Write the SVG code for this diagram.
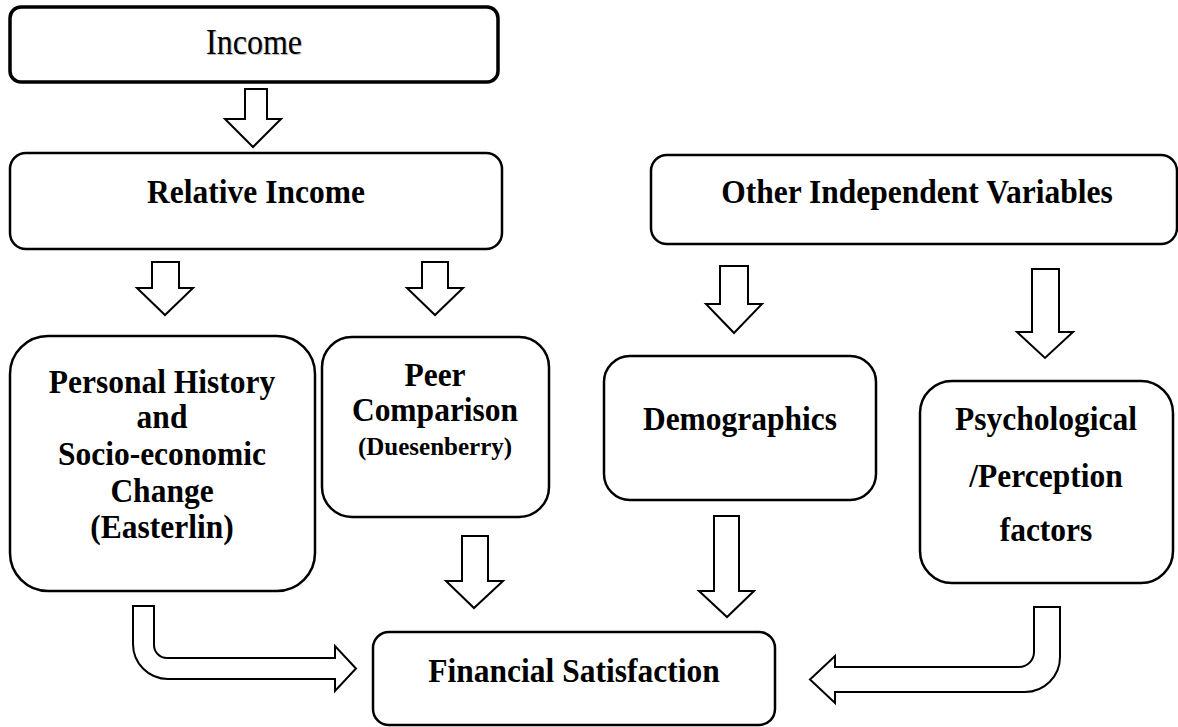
<svg xmlns="http://www.w3.org/2000/svg" width="1178" height="727" viewBox="0 0 1178 727">
<style>
.box{fill:#fff;stroke:#000;stroke-width:2.5}
.arr{fill:#fff;stroke:#000;stroke-width:2;stroke-linejoin:miter}
.t{font-family:"Liberation Serif","Times New Roman",serif;font-weight:bold;font-size:31.5px;text-anchor:middle;fill:#000}
.s{font-size:25px}
.n{font-weight:normal;font-size:32px}
</style>
<rect width="1178" height="727" fill="#fff"/>
<g id="connectors">
<polygon class="arr" points="245,89 267,89 267,119 281,119 253,147 225,119 245,119"/>
<polygon class="arr" points="152,262 179,262 179,288 193,288 165,315 137,288 152,288"/>
<polygon class="arr" points="422,262 448,262 448,288 463,288 435,315 407,288 422,288"/>
<polygon class="arr" points="720,266 748,266 748,304 762,304 734,333 706,304 720,304"/>
<polygon class="arr" points="1032,269 1059,269 1059,332 1073,332 1045,358 1017,332 1032,332"/>
<polygon class="arr" points="462,536 488,536 488,581 503,581 474,608 446,581 462,581"/>
<polygon class="arr" points="714,516 739,516 739,591 754,591 727,617 699,591 714,591"/>
<path class="arr" d="M133,606 L154,606 L154,645 A13,13 0 0 0 167,658 L335,658 L335,646 L356,668.5 L335,691 L335,679 L168,679 A35,35 0 0 1 133,644 Z"/>
<path class="arr" d="M1034,607 L1060,607 L1060,657 A35,35 0 0 1 1025,692 L835,692 L835,703 L810,679.5 L835,656 L835,667 L1019,667 A15,15 0 0 0 1034,652 Z"/>
</g>
<g id="income">
<rect class="box" x="10" y="7" width="488" height="75" rx="11" style="stroke-width:3.5"/>
<text class="t n" transform="translate(255 55) scale(1 1.1)" style="fill:#bbb">Income</text>
<text class="t n" transform="translate(254 54) scale(1 1.1)">Income</text>
</g>
<g id="relative-income">
<rect class="box" x="10" y="153" width="492" height="96" rx="16"/>
<text class="t" transform="translate(256 203) scale(1 1.1)">Relative Income</text>
</g>
<g id="other-independent-variables">
<rect class="box" x="651" y="155" width="526" height="89" rx="16"/>
<text class="t" transform="translate(917 203) scale(1 1.1)">Other Independent Variables</text>
</g>
<g id="personal-history">
<rect class="box" x="10" y="336" width="305" height="255" rx="38"/>
<text class="t" transform="translate(162 393) scale(1 1.1)">Personal History</text>
<text class="t" transform="translate(162 428) scale(1 1.1)">and</text>
<text class="t" transform="translate(162 465) scale(1 1.1)">Socio-economic</text>
<text class="t" transform="translate(162 502) scale(1 1.1)">Change</text>
<text class="t" transform="translate(162 538) scale(1 1.1)">(Easterlin)</text>
</g>
<g id="peer-comparison">
<rect class="box" x="322" y="337" width="227" height="180" rx="30"/>
<text class="t" transform="translate(435 386) scale(1 1.1)">Peer</text>
<text class="t" transform="translate(435 421) scale(1 1.1)">Comparison</text>
<text class="t s" x="435" y="455">(Duesenberry)</text>
</g>
<g id="demographics">
<rect class="box" x="604" y="356" width="272" height="144" rx="26"/>
<text class="t" transform="translate(740 430) scale(1 1.1)">Demographics</text>
</g>
<g id="psychological">
<rect class="box" x="920" y="381" width="253" height="202" rx="32"/>
<text class="t" transform="translate(1046 430) scale(1 1.1)">Psychological</text>
<text class="t" transform="translate(1046 487) scale(1 1.1)">/Perception</text>
<text class="t" transform="translate(1046 541) scale(1 1.1)">factors</text>
</g>
<g id="financial-satisfaction">
<rect class="box" x="373" y="632" width="402" height="93" rx="16"/>
<text class="t" transform="translate(574 682) scale(1 1.1)">Financial Satisfaction</text>
</g>
</svg>
